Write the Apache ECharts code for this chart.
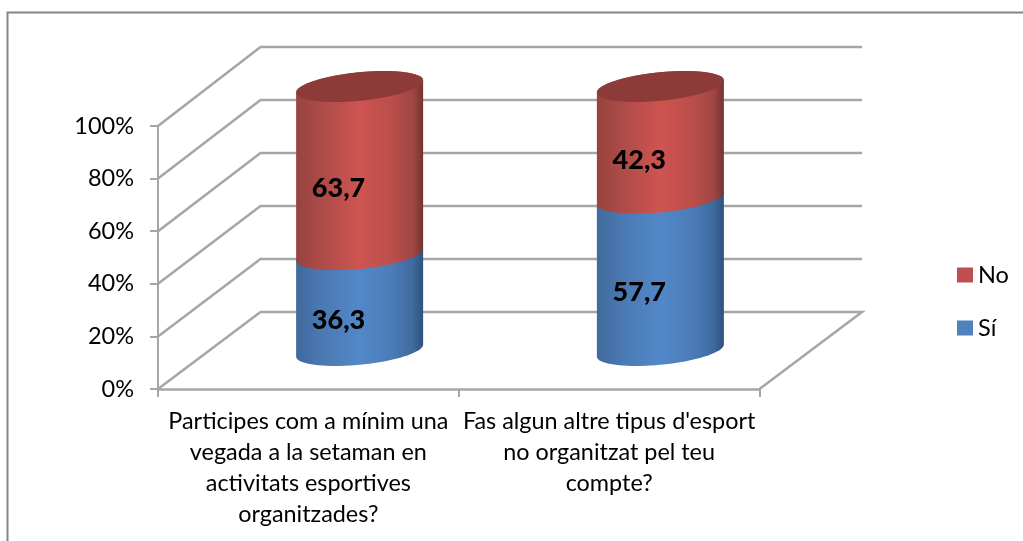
<!DOCTYPE html>
<html>
<head>
<meta charset="utf-8">
<style>
html,body{margin:0;padding:0;background:#fff}
#main{width:1023px;height:541px}
</style>
<script src="https://cdn.jsdelivr.net/npm/echarts@6/dist/echarts.min.js"></script>
</head>
<body>
<div id="main"></div>
<script>
var categories = [
    'Participes com a mínim una\nvegada a la setaman en\nactivitats esportives\norganitzades?',
    "Fas algun altre tipus d'esport\nno organitzat pel teu\ncompte?"
];
var siValues = [36.3, 57.7];
var noValues = [63.7, 42.3];
var wallTicks = [0, 20, 40, 60, 80, 100];

var FONT = 'Lato';
var GRID_COLOR = '#a6a6a6';
// fake 3d: how far the back wall sits from the front plane
var DEPTH_X = 102.5, DEPTH_Y = -77, DEPTH_STRETCH = -2;
var RX = 63.8, RY = 14.2, TILT = 5.7 * Math.PI / 180;

var myChart = echarts.init(document.getElementById('main'));

function toBack(p, v, depth) {
    return [p[0] + DEPTH_X * depth, p[1] + (DEPTH_Y + DEPTH_STRETCH * v / 100) * depth];
}

function arc(c, from, to) {
    var pts = [];
    for (var i = 0; i <= 40; i++) {
        var t = from + (to - from) * i / 40;
        pts.push([
            c[0] + RX * Math.cos(t) * Math.cos(TILT) + RY * Math.sin(t) * Math.sin(TILT),
            c[1] - RX * Math.cos(t) * Math.sin(TILT) + RY * Math.sin(t) * Math.cos(TILT)
        ]);
    }
    return pts;
}

function bodyGradient(stops) {
    return new echarts.graphic.LinearGradient(0, 0, 1, 0, stops.map(function (s) {
        return {offset: s[0], color: s[1]};
    }));
}

var redStops = [[0, '#97433f'], [0.2, '#ad4b48'], [0.5, '#ce5451'], [0.75, '#bb4e4b'], [0.92, '#a04643'], [1, '#763330']];
var blueStops = [[0, '#41699c'], [0.2, '#4a79b2'], [0.5, '#5288c9'], [0.75, '#4b7cb8'], [0.92, '#3f6a9e'], [1, '#2f517e']];

function cylinder(base, stops, withCap) {
    return function (params, api) {
        var cat = api.value(0);
        var v = api.value(1);
        var start = base ? base[params.dataIndex] : 0;
        var end = start + v;
        var from = toBack(api.coord([cat, start]), start, 0.5);
        var to = toBack(api.coord([cat, end]), end, 0.5);
        var edge = Math.atan2(RY * Math.sin(TILT), RX * Math.cos(TILT));
        var body = arc(from, edge, edge + Math.PI).concat(arc(to, edge + Math.PI, edge + 2 * Math.PI));
        var children = [{
            type: 'polygon',
            shape: {points: body},
            style: {fill: bodyGradient(stops)}
        }];
        if (withCap) {
            children.push({
                type: 'polygon',
                shape: {points: arc(to, 0, 2 * Math.PI)},
                style: {fill: '#8d3b39'}
            });
        }
        var mid = toBack(api.coord([cat, start + v / 2]), start + v / 2, 0.27);
        children.push({
            type: 'text',
            z2: 10,
            style: {
                text: String(v).replace('.', ','),
                x: mid[0] + 2.5, y: mid[1],
                align: 'center', verticalAlign: 'middle',
                font: '900 27px ' + FONT,
                fill: '#000'
            }
        });
        return {type: 'group', children: children};
    };
}

function renderWalls(params, api) {
    var v = api.value(0);
    var band = api.size([1, 0])[0];
    var first = api.coord([0, v]);
    var last = api.coord([categories.length - 1, v]);
    var left = [first[0] - band / 2, first[1]];
    var right = [last[0] + band / 2, last[1]];
    var pts = [left, toBack(left, v, 1), toBack(right, v, 1)];
    if (v === 0) {
        pts.push(right);
    }
    return {
        type: 'polyline',
        shape: {points: pts},
        style: {stroke: GRID_COLOR, lineWidth: 2.5, fill: 'none'}
    };
}

var option = {
    backgroundColor: '#fff',
    animation: false,
    textStyle: {fontFamily: FONT},
    graphic: [{
        type: 'polyline',
        silent: true,
        shape: {points: [[7.5, 541], [7.5, 12.5], [1023, 12.5]]},
        style: {stroke: '#868686', lineWidth: 2, fill: 'none'}
    }],
    grid: {left: 158, top: 126, width: 601.5, height: 263},
    legend: {
        orient: 'vertical',
        left: 957,
        top: 263,
        padding: 0,
        itemWidth: 16,
        itemHeight: 15,
        itemGap: 29,
        icon: 'rect',
        data: ['No', 'Sí'],
        textStyle: {fontFamily: FONT, fontSize: 23.5, color: '#000'}
    },
    xAxis: {
        type: 'category',
        data: categories,
        axisTick: {show: true, alignWithLabel: false, length: 8, lineStyle: {color: GRID_COLOR, width: 2}},
        axisLine: {lineStyle: {color: GRID_COLOR, width: 2.5}},
        axisLabel: {
            interval: 0,
            color: '#000',
            fontFamily: FONT,
            fontSize: 23.4,
            lineHeight: 31,
            margin: 17
        }
    },
    yAxis: {
        type: 'value',
        min: 0,
        max: 100,
        interval: 20,
        axisLine: {show: true, lineStyle: {color: GRID_COLOR, width: 2}},
        axisTick: {show: true, length: 8, lineStyle: {color: GRID_COLOR, width: 2}},
        splitLine: {show: false},
        axisLabel: {
            color: '#000',
            fontFamily: FONT,
            fontSize: 23.5,
            margin: 24,
            formatter: '{value}%'
        }
    },
    series: [{
        type: 'custom',
        name: 'walls',
        silent: true,
        renderItem: renderWalls,
        encode: {y: 0},
        data: wallTicks.map(function (v) { return [v]; }),
        z: 1
    }, {
        type: 'custom',
        name: 'Sí',
        itemStyle: {color: '#4f81bd'},
        renderItem: cylinder(null, blueStops, false),
        encode: {x: 0, y: 1},
        data: siValues.map(function (v, i) { return [i, v]; }),
        z: 2
    }, {
        type: 'custom',
        name: 'No',
        itemStyle: {color: '#c0504d'},
        renderItem: cylinder(siValues, redStops, true),
        encode: {x: 0, y: 1},
        data: noValues.map(function (v, i) { return [i, v]; }),
        z: 3
    }]
};

myChart.setOption(option);
</script>
</body>
</html>
